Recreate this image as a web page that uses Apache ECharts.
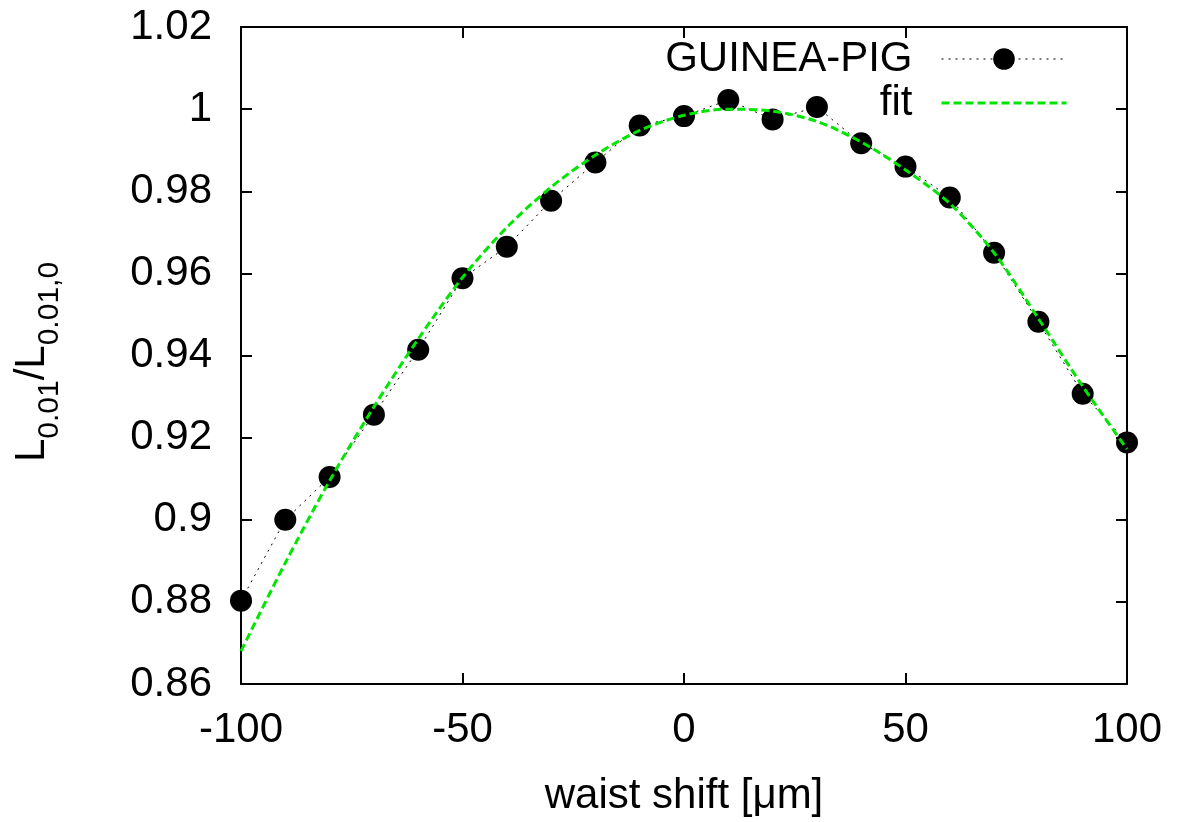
<!DOCTYPE html>
<html>
<head>
<meta charset="utf-8">
<script src="https://cdn.jsdelivr.net/npm/echarts@6/dist/echarts.min.js"></script>
<style>html,body{margin:0;padding:0;background:#fff}#c{width:1188px;height:822px}</style>
</head>
<body>
<div id="c"></div>
<script>
// waist shift [um]
const shifts = [-100, -90, -80, -70, -60, -50, -40, -30, -20, -10, 0, 10, 20, 30, 40, 50, 60, 70, 80, 90, 100];
// GUINEA-PIG simulation values
const guineaPig = [0.8803, 0.9000, 0.9104, 0.9256, 0.9414, 0.9588, 0.9665, 0.9777, 0.9870, 0.9960, 0.9983, 1.0022, 0.9975, 1.0005, 0.9917, 0.9860, 0.9785, 0.9650, 0.9482, 0.9307, 0.9188];
// fit curve values read at the same positions
const fitValues = [0.8680, 0.8895, 0.9095, 0.9275, 0.9440, 0.9590, 0.9712, 0.9810, 0.9888, 0.9948, 0.9985, 1.0000, 0.9995, 0.9970, 0.9920, 0.9852, 0.9770, 0.9650, 0.9490, 0.9325, 0.9172];
const xTicks = {min: -100, max: 100, step: 50};
const yTicks = {min: 0.86, max: 1.02, step: 0.02};

const FONT = 'Liberation Sans';
const FS = 42;
const chart = echarts.init(document.getElementById('c'), null, {renderer: 'canvas'});
const axisLine = {show: true, onZero: false, lineStyle: {color: '#000', width: 2}};
const axisTick = {show: true, inside: true, length: 11, lineStyle: {color: '#000', width: 2}};

chart.setOption({
  animation: false,
  backgroundColor: '#fff',
  grid: {left: 241, right: 61, top: 27, bottom: 133, containLabel: false},
  legend: {
    orient: 'vertical',
    right: 115,
    top: 32,
    align: 'right',
    itemWidth: 125,
    itemHeight: 27,
    itemGap: 0,
    selectedMode: false,
    textStyle: {fontFamily: FONT, fontSize: FS, color: '#000', lineHeight: 44, padding: [0, 24, 0, 0]},
    data: [
      {name: 'GUINEA-PIG', lineStyle: {color: '#000', width: 1, type: [2, 5]}},
      {name: 'fit', itemStyle: {color: 'rgba(0,0,0,0)', opacity: 0, borderWidth: 0},
       lineStyle: {color: '#00e600', width: 3, type: [8, 4], opacity: 1}}
    ]
  },
  xAxis: [
    {type: 'value', position: 'bottom', min: xTicks.min, max: xTicks.max, interval: xTicks.step,
     axisLine, axisTick, splitLine: {show: false},
     axisLabel: {fontFamily: FONT, fontSize: FS, color: '#000', margin: 25},
     name: 'waist shift [μm]', nameLocation: 'middle', nameGap: 91,
     nameTextStyle: {fontFamily: FONT, fontSize: FS, color: '#000'}},
    {type: 'value', position: 'top', min: xTicks.min, max: xTicks.max, interval: xTicks.step,
     axisLine, axisTick, splitLine: {show: false}, axisLabel: {show: false}}
  ],
  yAxis: [
    {type: 'value', position: 'left', min: yTicks.min, max: yTicks.max, interval: yTicks.step,
     axisLine, axisTick, splitLine: {show: false},
     axisLabel: {fontFamily: FONT, fontSize: FS, color: '#000', margin: 29}},
    {type: 'value', position: 'right', min: yTicks.min, max: yTicks.max, interval: yTicks.step,
     axisLine, axisTick, splitLine: {show: false}, axisLabel: {show: false}}
  ],
  graphic: [{
    type: 'text',
    x: 32, y: 362,
    rotation: Math.PI / 2,
    style: {
      text: '{m|L}{s|0.01}{m|/L}{s|0.01,0}',
      align: 'center', verticalAlign: 'middle',
      rich: {
        m: {fontFamily: FONT, fontSize: FS, lineHeight: 66, verticalAlign: 'middle', fill: '#000'},
        s: {fontFamily: FONT, fontSize: 30, lineHeight: 66, verticalAlign: 'bottom', fill: '#000'}
      }
    }
  }],
  series: [
    {
      name: 'GUINEA-PIG', type: 'line',
      data: shifts.map((x, i) => [x, guineaPig[i]]),
      symbol: 'circle', symbolSize: 22,
      itemStyle: {color: '#000'},
      lineStyle: {color: '#000', width: 1, type: [2, 5]},
      z: 2
    },
    {
      name: 'fit', type: 'line',
      data: shifts.map((x, i) => [x, fitValues[i]]),
      smooth: 0.3, showSymbol: false, symbol: 'none',
      itemStyle: {color: '#00e600'},
      lineStyle: {color: '#00e600', width: 3, type: [8, 4]},
      z: 3
    }
  ]
});
</script>
</body>
</html>
